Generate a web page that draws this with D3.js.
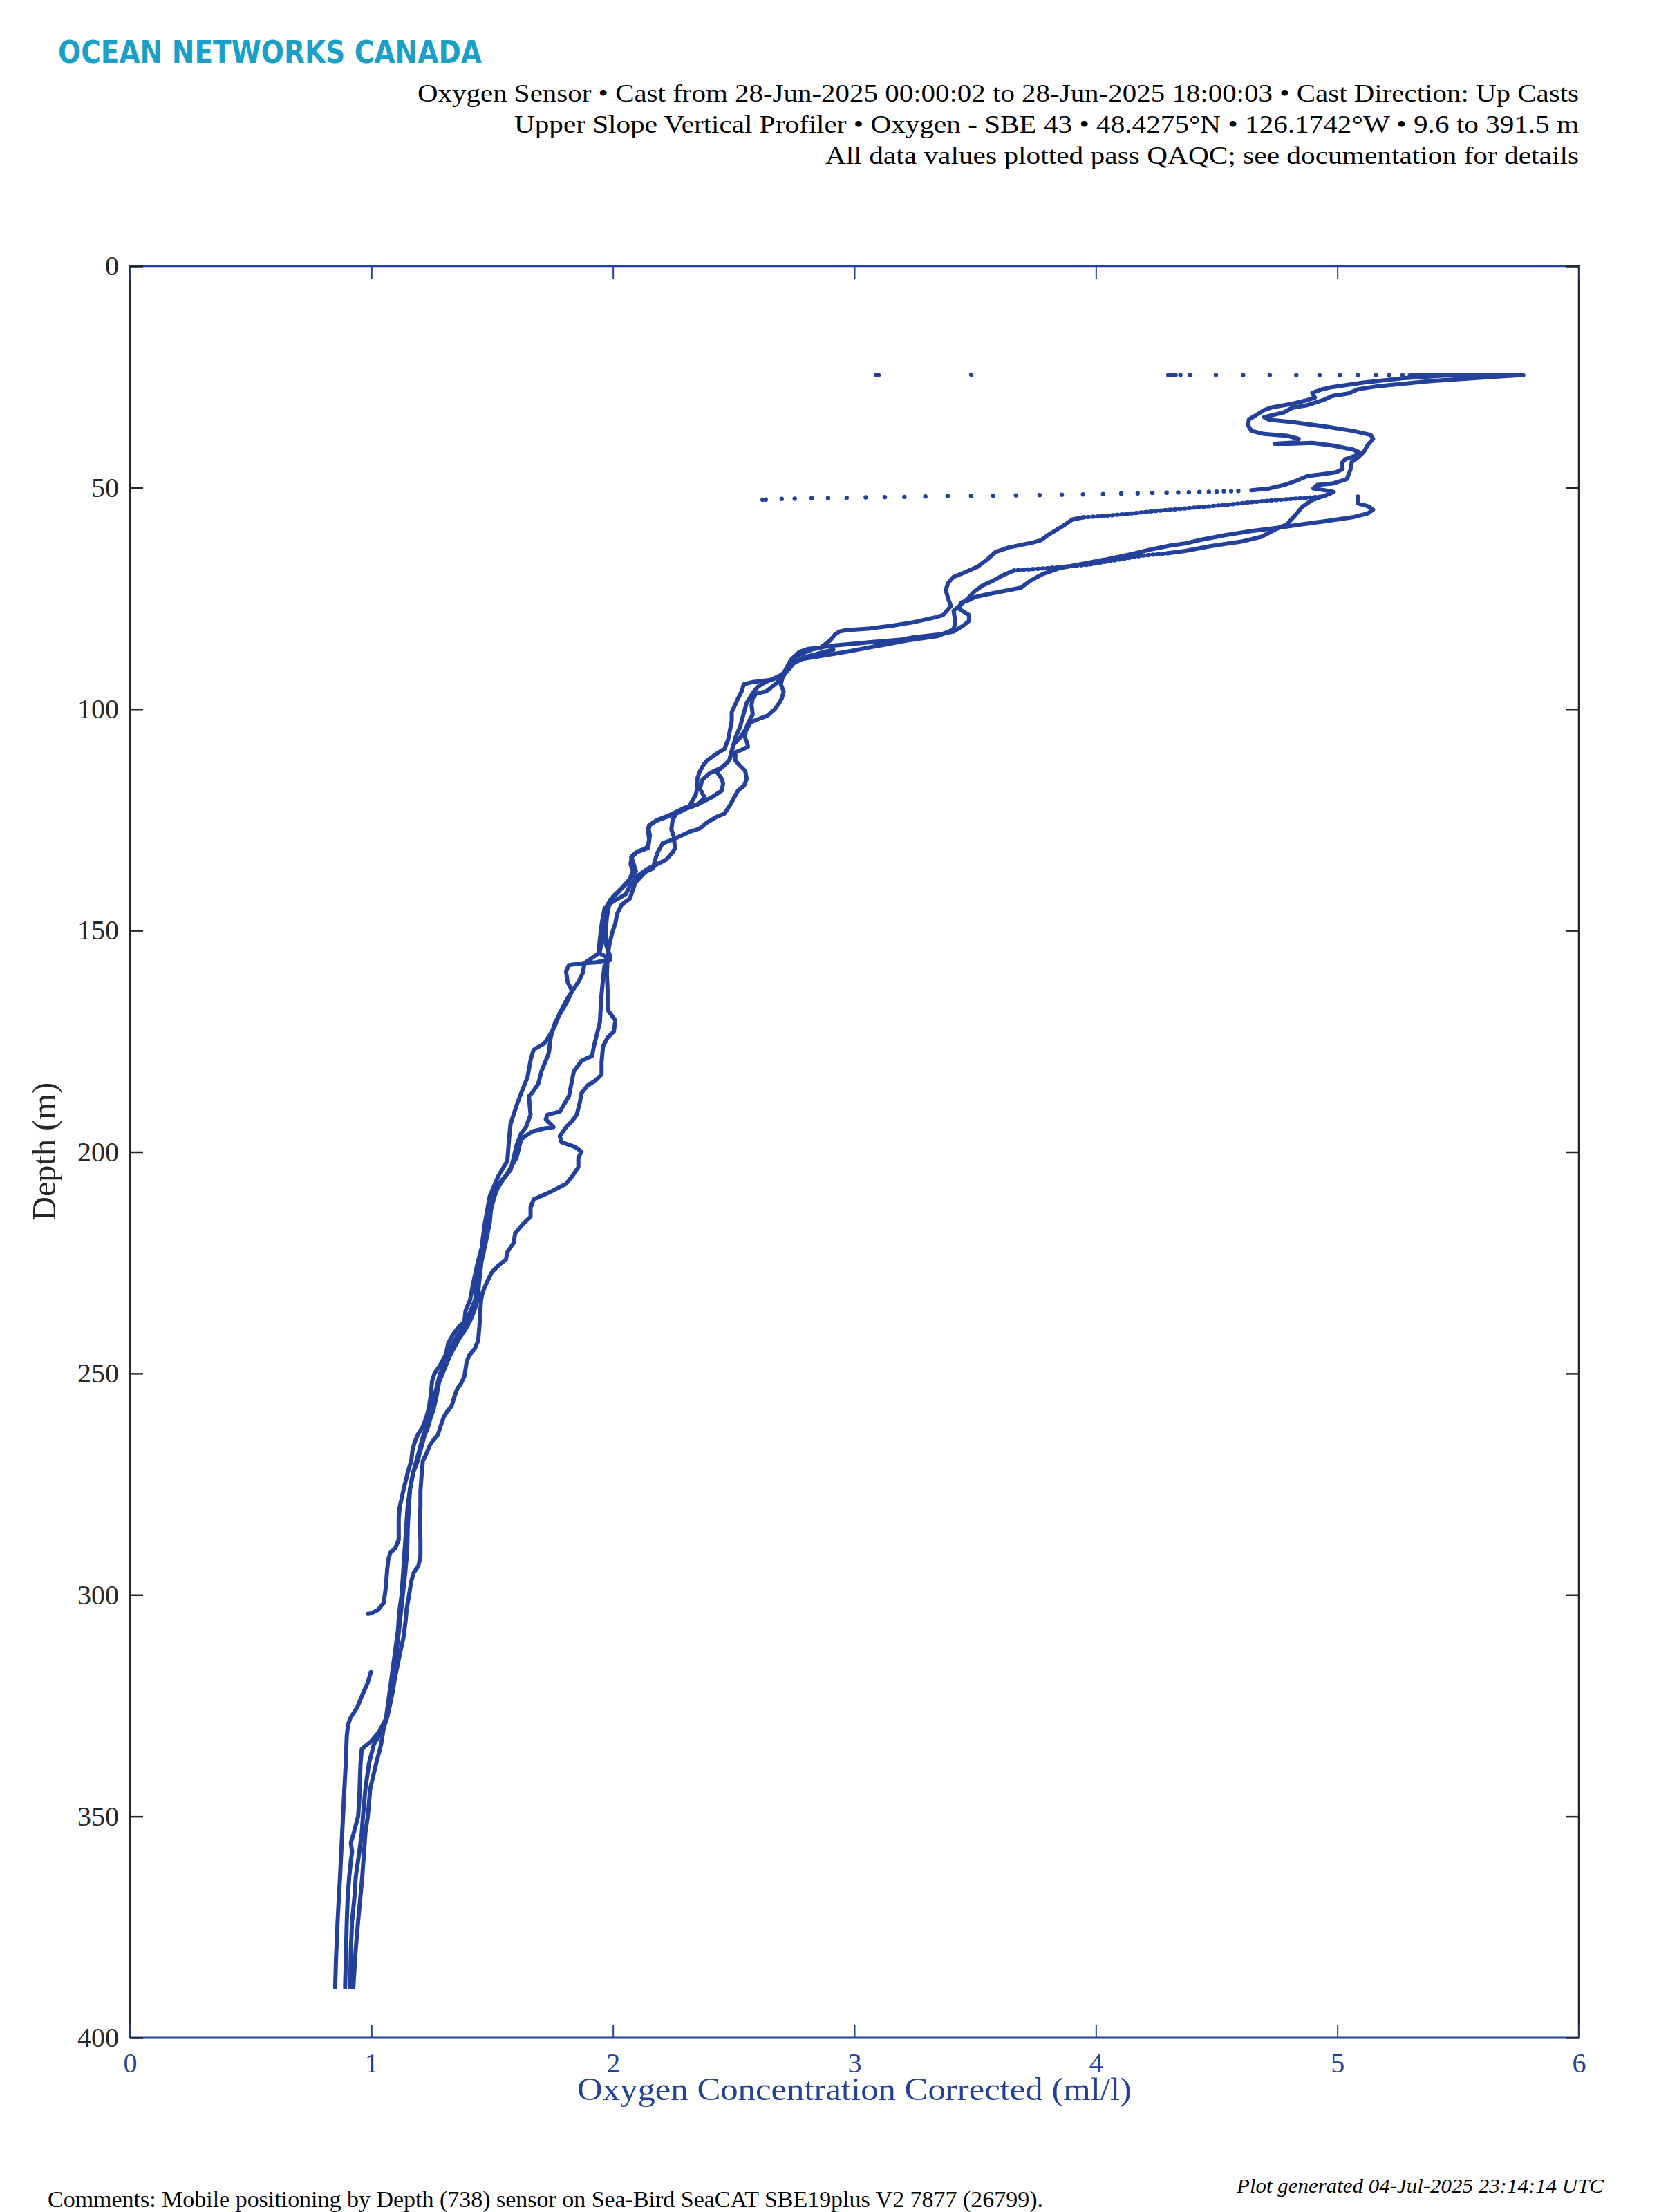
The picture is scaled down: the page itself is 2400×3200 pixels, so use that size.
<!DOCTYPE html>
<html><head><meta charset="utf-8">
<script src="https://cdn.jsdelivr.net/npm/d3@7"></script>
<style>html,body{margin:0;padding:0;background:#fff}</style>
</head><body>
<script>
// ---------- DATA (depth m, oxygen ml/l) ----------
const xTicks = [0,1,2,3,4,5,6];
const yTicks = [0,50,100,150,200,250,300,350,400];

const castA_top = [[24.6,5.485],[25.3,5.275],[26.3,5.107],[27.3,4.98],[27.8,4.938],[28.6,4.896],[29.7,4.907],[30.4,4.865],[31.1,4.812],[31.9,4.728],[32.5,4.697],[33.6,4.665],[34.6,4.634],[35.9,4.63],[37.2,4.644],[37.9,4.697],[38.3,4.791],[39.0,4.84],[39.8,4.833],[40.1,4.74],[40.1,4.80],[39.9,4.896],[40.5,4.98],[41.4,5.064],[42.0,5.09],[42.8,5.075],[43.6,5.033],[44.5,5.018],[45.8,5.022],[46.5,4.997],[46.9,4.949],[47.4,4.875],[48.4,4.833],[49.4,4.781],[50.2,4.718],[50.6,4.644]];

const castA_mid = [[86.6,2.913],[87.1,2.874],[87.7,2.836],[88.4,2.785],[89.7,2.747],[91.0,2.73],[92.5,2.69],[94.0,2.63],[95.0,2.60],[96.0,2.584],[98.6,2.554],[101.7,2.538],[103.8,2.528],[106.4,2.508],[109.5,2.492],[111.6,2.482],[113.2,2.451],[114.5,2.40],[116.0,2.37],[118.0,2.36],[120.0,2.38],[121.5,2.353],[122.3,2.296],[124.1,2.229],[125.1,2.181],[126.2,2.153],[127.2,2.148],[128.5,2.153],[130.6,2.148],[131.6,2.134],[132.4,2.095],[133.4,2.076],[135.0,2.086],[136.6,2.095],[137.3,2.086],[138.6,2.067],[139.7,2.048],[141.5,2.02],[143.0,1.99],[145.0,1.97],[148.0,1.96],[152.0,1.955],[155.0,1.945],[157.4,1.882],[159.5,1.876],[161.6,1.857],[163.7,1.831],[166.5,1.806],[170.7,1.761],[174.2,1.742],[177.6,1.735],[181.8,1.704],[184.6,1.691],[186.7,1.665],[187.4,1.652],[191.6,1.659],[194.4,1.64],[195.8,1.62],[198.5,1.601],[201.3,1.589],[204.1,1.576],[207,1.53],[210,1.51],[216,1.48],[220,1.465],[225,1.44],[230,1.42],[233.3,1.409],[235.8,1.39],[238.3,1.385],[239.5,1.361],[241.3,1.337],[243.2,1.318],[245.7,1.308],[248.1,1.285],[250.0,1.261],[251.8,1.251],[254.9,1.246],[258.0,1.237],[259.9,1.227],[262.0,1.213],[263.6,1.194],[265.4,1.18],[267.3,1.17],[269.7,1.165],[272.2,1.151],[276.5,1.132],[280.2,1.117],[282.7,1.113],[287.6,1.113],[289.5,1.098],[290.4,1.079],[292.0,1.07],[294.4,1.065],[298.1,1.06],[301.8,1.051],[303.4,1.027],[304.2,0.998],[304.3,0.985]];

const castA_deep = [[317.4,0.998],[319.9,0.984],[322.9,0.96],[325.4,0.941],[327.9,0.912],[329.4,0.903],[331.8,0.898],[338.8,0.893],[343.8,0.888],[353.7,0.879],[363.7,0.87],[373.6,0.86],[382.6,0.853],[388.6,0.85]];

const castB_upper = [[24.6,5.30],[24.6,5.77],[24.8,5.70],[25.2,5.59],[26.0,5.38],[27.1,5.17],[27.8,5.085],[28.8,5.043],[29.3,4.98],[30.3,4.938],[31.4,4.875],[32.0,4.812],[33.0,4.78],[33.7,4.728],[34.1,4.697],[34.7,4.718],[35.2,4.812],[36.3,4.96],[37.2,5.064],[38.1,5.138],[39.0,5.148],[40.3,5.127],[41.9,5.11],[43.2,5.085],[44.2,5.06],[46.0,5.054],[48.1,5.039],[49.1,4.98],[49.4,4.917],[50.2,4.9],[50.7,4.96],[51.0,4.985],[51.8,4.949],[52.8,4.896],[54.4,4.854],[56.4,4.823],[58.3,4.791],[59.3,4.749],[61.1,4.686],[62.2,4.602],[63.2,4.476],[64.3,4.371],[64.8,4.3]];
const castB_fast = [[64.8,4.3],[65.4,4.188],[66.4,4.08],[67.4,3.97],[68.2,3.794],[68.7,3.662]];
const castB = [[68.7,3.662],[69.7,3.619],[71.0,3.575],[72.1,3.531],[73.4,3.498],[74.7,3.476],[76.0,3.45],[77.8,3.411],[80.4,3.418],[82.0,3.411],[83.5,3.347],[84.5,3.219],[85.8,3.091],[87.1,2.964],[87.9,2.874],[88.7,2.785],[90.0,2.734],[91.5,2.72],[93.0,2.70],[94.5,2.67],[96.0,2.635],[96.5,2.594],[97.5,2.579],[99.1,2.574],[101.2,2.579],[102.7,2.564],[104.6,2.549],[106.4,2.528],[108.0,2.50],[109.5,2.492],[111.6,2.482],[113.2,2.451],[114.2,2.431],[115.8,2.451],[116.8,2.456],[118.4,2.451],[119.9,2.41],[121.0,2.37],[122.0,2.329],[122.8,2.288],[123.6,2.262],[125.1,2.247],[127.2,2.242],[128.8,2.252],[131.4,2.257],[132.4,2.247],[134.0,2.221],[135.0,2.185],[136.0,2.145],[137.6,2.104],[139.7,2.073],[141.8,2.053],[143.5,2.0],[144.9,1.966],[148.0,1.955],[151.9,1.946],[155.0,1.94],[156.5,1.99],[157.2,1.93],[157.4,1.876],[157.8,1.818],[159.2,1.806],[161.6,1.812],[163.7,1.831],[165.5,1.81],[168.6,1.78],[171.4,1.761],[173.5,1.74],[175.5,1.716],[176.9,1.672],[179.0,1.66],[183.2,1.646],[186.0,1.625],[189.5,1.601],[193.7,1.576],[197.0,1.57],[202.0,1.563],[205.5,1.525],[210,1.49],[216,1.47],[220,1.46],[225,1.45],[230,1.435],[233.3,1.43],[236,1.41],[238,1.395],[240,1.375],[242,1.35],[244,1.33],[246,1.315],[248,1.30],[250,1.285],[252,1.275],[255,1.262],[258,1.25],[260,1.24],[262,1.228],[264,1.215],[266,1.205],[268,1.195],[270,1.185],[273,1.17],[276,1.16],[280,1.155],[285,1.15],[290,1.148],[295,1.14],[300,1.13],[305,1.12],[310,1.11],[315,1.10],[320,1.09],[325,1.075],[330,1.05],[333.8,1.01],[338,0.99],[343.8,0.975],[350,0.965],[353.7,0.96],[358,0.95],[363.7,0.935],[368,0.93],[373.6,0.92],[380,0.915],[388.6,0.912]];

const castC = [[52.0,5.085],[53.6,5.085],[54.2,5.127],[55.0,5.148],[55.8,5.127],[56.7,5.064],[57.5,4.96],[58.3,4.854],[59.1,4.749],[59.8,4.644],[60.7,4.539],[61.8,4.434],[62.6,4.371],[63.1,4.308],[64.0,4.224],[65.0,4.15],[66.3,4.035],[67.4,3.925],[68.2,3.85],[69.5,3.78],[71.0,3.73],[72.6,3.69],[74.1,3.55],[74.7,3.50],[75.4,3.475],[76.0,3.44],[77.5,3.437],[78.8,3.475],[80.1,3.475],[81.2,3.45],[82.5,3.411],[83.2,3.347],[83.8,3.245],[84.3,3.194],[84.8,3.091],[85.3,2.989],[85.8,2.887],[86.6,2.823],[87.7,2.772],[89.2,2.734],[91.8,2.708],[94.4,2.695],[96.0,2.707],[97.5,2.70],[98.6,2.689],[100.0,2.671],[101.5,2.64],[102.3,2.60],[103.0,2.57],[105.0,2.55],[106.4,2.547],[107.5,2.555],[108.5,2.559],[109.2,2.533],[109.8,2.507],[111.6,2.507],[112.6,2.523],[114.0,2.548],[115.8,2.554],[117.3,2.543],[118.4,2.518],[121.5,2.487],[123.6,2.462],[124.3,2.431],[125.6,2.39],[127.0,2.359],[127.7,2.318],[129.5,2.247],[130.3,2.206],[132.4,2.185],[134.0,2.175],[136.0,2.165],[136.8,2.134],[139.2,2.093],[142.8,2.07],[144.2,2.036],[146.3,2.017],[148.4,2.01],[150.5,1.997],[153.3,1.985],[155.7,1.978],[160,1.975],[163.7,1.978],[167.9,1.978],[170.3,2.01],[172.8,2.004],[174.2,1.978],[176.2,1.959],[179.7,1.953],[182.5,1.953],[183.9,1.927],[185.0,1.895],[186.7,1.87],[188.8,1.863],[191.6,1.85],[193.0,1.831],[194.4,1.806],[196.4,1.78],[197.8,1.787],[198.9,1.844],[199.9,1.87],[201.3,1.857],[203.4,1.857],[205.5,1.831],[207.2,1.806],[209.0,1.742],[210.7,1.672],[212.5,1.659],[214.6,1.659],[216.3,1.627],[218.4,1.595],[220.5,1.589],[222.6,1.563],[224.3,1.557],[225.4,1.531],[227.1,1.499],[229.2,1.48],[231.6,1.461],[233.4,1.454],[235.8,1.451],[239.5,1.447],[242.6,1.442],[244.4,1.428],[246.0,1.404],[247.5,1.394],[250.6,1.385],[252.4,1.37],[253.4,1.356],[255.5,1.342],[257.4,1.332],[258.6,1.313],[259.9,1.299],[262.3,1.284],[263.9,1.275],[265.1,1.256],[266.3,1.241],[268.2,1.227],[269.7,1.213],[272.8,1.208],[276.5,1.203],[280.2,1.203],[283.9,1.199],[287.6,1.203],[291.3,1.203],[293.5,1.194],[295.0,1.175],[296.9,1.165],[300.0,1.156],[303.1,1.146],[306.1,1.141],[309.8,1.132],[313.5,1.117],[316.0,1.108],[318.5,1.098],[321.6,1.089],[325.3,1.075],[327.7,1.065],[330.0,1.051],[333.8,1.04],[338,1.02],[343.8,0.995],[350,0.985],[353.7,0.975],[363.7,0.962],[373.6,0.945],[380,0.935],[388.6,0.925]];

const castD_fast = [[51.8,4.949],[52.0,4.938],[52.4,4.854],[52.8,4.749],[53.3,4.644],[53.9,4.539],[54.4,4.434],[55.0,4.308],[55.4,4.224],[56.0,4.119],[56.5,4.014],[56.7,3.951]];
const castD = [[56.7,3.951],[57.2,3.903],[58.8,3.86],[60.6,3.805],[61.9,3.772],[62.4,3.739],[63.5,3.641],[64.5,3.586],[66.1,3.553],[67.9,3.509],[69.2,3.454],[70.2,3.41],[71.5,3.389],[73.1,3.378],[75.2,3.389],[76.7,3.40],[78.8,3.367],[79.3,3.334],[80.4,3.245],[81.2,3.155],[81.8,3.066],[82.2,2.964],[82.5,2.938],[83.2,2.919],[84.5,2.90],[86.1,2.861],[86.4,2.81],[87.1,2.772],[88.7,2.74],[90.8,2.721],[92.3,2.708],[93.4,2.657],[93.9,2.58],[94.4,2.542],[96.0,2.533],[98.0,2.515],[100.7,2.492],[102.7,2.492],[106.9,2.477],[109.0,2.462],[110.0,2.431],[111.6,2.39],[112.6,2.375],[114.2,2.359],[115.8,2.349],[117.8,2.349],[119.4,2.343],[122.0,2.315],[123.3,2.277],[124.3,2.226],[125.1,2.185],[126.2,2.15],[127.2,2.145],[129.3,2.15],[131.4,2.145],[132.1,2.104],[133.4,2.078],[135.0,2.073],[136.6,2.083],[139.2,2.063],[140.7,2.032],[142.3,2.001],[144.0,1.985],[147.0,1.975],[150.0,1.97],[153.0,1.97],[156.0,1.99],[158.0,1.965],[160.9,1.959],[165.0,1.952],[170.7,1.946],[176.2,1.921],[178.3,1.914],[179.4,1.87],[181.8,1.838],[184.0,1.83],[187.4,1.818],[190.9,1.78],[191.6,1.729],[192.6,1.722],[194.4,1.754],[194.7,1.716],[195.4,1.665],[197.1,1.62],[201.3,1.601],[204.8,1.563],[210,1.50],[216,1.49],[220,1.475],[225,1.455],[230,1.445],[233.3,1.44],[236,1.425],[238,1.41],[240,1.39],[242,1.365],[244,1.345],[246,1.325],[248,1.31],[250,1.295],[252,1.28],[255,1.27],[258,1.258],[260,1.245],[262,1.235],[264,1.22],[266,1.21],[268,1.20],[270,1.19],[272,1.175],[276,1.16],[280,1.15],[284,1.145],[288,1.14],[292,1.135],[296,1.13],[300,1.125],[304,1.115],[308,1.11],[312,1.10],[316,1.09],[320,1.08],[324,1.07],[328,1.06],[331,1.03],[333,1.0],[334.8,0.96],[338,0.955],[342,0.952],[346,0.95],[350,0.945],[353.7,0.927],[356,0.915],[358,0.92],[360,0.915],[363.7,0.908],[368,0.902],[373.6,0.898],[380,0.895],[388.6,0.891]];

// sparse samples (sensor drift while parked)
const dots25 = [[24.6,3.09],[24.6,3.10],[24.5,3.484],[24.6,4.30],[24.6,4.315],[24.6,4.33],[24.6,4.35],[24.6,4.39],[24.6,4.497],[24.6,4.61],[24.6,4.72],[24.6,4.83],[24.6,4.926],[24.6,5.01],[24.6,5.085],[24.6,5.16],[24.6,5.215],[24.6,5.27]];
const dots52 = [[50.75,4.59],[50.8,4.56],[50.85,4.53],[50.9,4.50],[50.95,4.468],[51.0,4.429],[51.05,4.385],[51.1,4.341],[51.15,4.293],[51.2,4.234],[51.3,4.173],[51.35,4.105],[51.45,4.03],[51.55,3.947],[51.6,3.859],[51.7,3.767],[51.75,3.669],[51.8,3.575],[51.85,3.483],[51.9,3.386],[52.0,3.294],[52.1,3.207],[52.15,3.126],[52.2,3.047],[52.3,2.968],[52.35,2.891],[52.4,2.823],[52.5,2.753],[52.55,2.699],[52.7,2.633],[52.75,2.62]];

const titleLines = [
  "Oxygen Sensor \u2022 Cast from 28-Jun-2025 00:00:02 to 28-Jun-2025 18:00:03 \u2022 Cast Direction: Up Casts",
  "Upper Slope Vertical Profiler \u2022 Oxygen - SBE 43 \u2022 48.4275\u00B0N \u2022 126.1742\u00B0W \u2022 9.6 to 391.5 m",
  "All data values plotted pass QAQC; see documentation for details"
];

// ---------- DRAW ----------
const W = 2400, H = 3200;
const blue = "#23419a", gray = "#262626";
const serif = "'Liberation Serif','DejaVu Serif',serif";
const x = d3.scaleLinear().domain([0,6]).range([188,2284]);
const y = d3.scaleLinear().domain([0,400]).range([385,2948]);

const svg = d3.select("body").append("svg").attr("width",W).attr("height",H)
  .style("background","#fff");
svg.append("rect").attr("width",W).attr("height",H).attr("fill","#fff");

// logo
svg.append("text").attr("x",84).attr("y",91)
  .attr("font-family","'DejaVu Sans Condensed','DejaVu Sans',sans-serif")
  .attr("font-weight","bold").attr("font-size",44).attr("fill","#1a9fc7")
  .attr("textLength",613).attr("lengthAdjust","spacingAndGlyphs")
  .text("OCEAN NETWORKS CANADA");

// title lines
const tl = [{x:604,y:147,w:1680},{x:744,y:192,w:1540},{x:1194,y:237,w:1090}];
titleLines.forEach((t,i)=>{
  svg.append("text").attr("x",tl[i].x).attr("y",tl[i].y)
    .attr("font-family",serif).attr("font-size",36).attr("fill","#000")
    .attr("textLength",tl[i].w).attr("lengthAdjust","spacingAndGlyphs").text(t);
});

// clip
svg.append("clipPath").attr("id","plotclip").append("rect")
  .attr("x",188).attr("y",385).attr("width",2284-188).attr("height",2948-385);

const g = svg.append("g").attr("clip-path","url(#plotclip)");
const line = d3.line().x(d=>x(d[1])).y(d=>y(d[0]));
[castA_top, castA_mid, castA_deep, castB_upper, castB, castC, castD].forEach(c=>{
  g.append("path").attr("d",line(c)).attr("fill","none").attr("stroke",blue)
    .attr("stroke-width",6).attr("stroke-linejoin","round").attr("stroke-linecap","round");
});
// fast-moving segments: samples visibly separated
[castB_fast, castD_fast].forEach(c=>{
  g.append("path").attr("d",line(c)).attr("fill","none").attr("stroke",blue)
    .attr("stroke-width",6).attr("stroke-linecap","round").attr("stroke-dasharray","2 5");
});
g.selectAll("circle.d").data(dots25.concat(dots52)).join("circle")
  .attr("cx",d=>x(d[1])).attr("cy",d=>y(d[0])).attr("r",3.2).attr("fill",blue);

// box lines
svg.append("line").attr("x1",188).attr("x2",2284).attr("y1",385).attr("y2",385).attr("stroke",blue).attr("stroke-width",2.5);
svg.append("line").attr("x1",188).attr("x2",2284).attr("y1",2948).attr("y2",2948).attr("stroke",blue).attr("stroke-width",3);
svg.append("line").attr("x1",188).attr("x2",188).attr("y1",384).attr("y2",2949).attr("stroke",gray).attr("stroke-width",2.5);
svg.append("line").attr("x1",2284).attr("x2",2284).attr("y1",384).attr("y2",2949).attr("stroke",gray).attr("stroke-width",2.5);

// axes
const ax = svg.append("g").attr("transform","translate(0,2948)")
  .call(d3.axisBottom(x).tickValues(xTicks).tickSizeInner(-19).tickSizeOuter(0).tickPadding(22).tickFormat(d3.format("d")));
ax.select(".domain").remove();
ax.selectAll("line").attr("stroke",blue).attr("stroke-width",2);
ax.selectAll("text").attr("fill",blue).attr("font-size",40).attr("font-family",serif);

const axT = svg.append("g").attr("transform","translate(0,385)")
  .call(d3.axisTop(x).tickValues(xTicks).tickSizeInner(-19).tickSizeOuter(0).tickFormat(""));
axT.select(".domain").remove();
axT.selectAll("line").attr("stroke",blue).attr("stroke-width",2);

const ay = svg.append("g").attr("transform","translate(188,0)")
  .call(d3.axisLeft(y).tickValues(yTicks).tickSizeInner(-19).tickSizeOuter(0).tickPadding(16).tickFormat(d3.format("d")));
ay.select(".domain").remove();
ay.selectAll("line").attr("stroke",gray).attr("stroke-width",2.5);
ay.selectAll("text").attr("fill",gray).attr("font-size",40).attr("font-family",serif);

const ayR = svg.append("g").attr("transform","translate(2284,0)")
  .call(d3.axisRight(y).tickValues(yTicks).tickSizeInner(-19).tickSizeOuter(0).tickFormat(""));
ayR.select(".domain").remove();
ayR.selectAll("line").attr("stroke",gray).attr("stroke-width",2.5);

// axis labels
svg.append("text").attr("x",835).attr("y",3038).attr("font-family",serif).attr("font-size",46)
  .attr("fill",blue).attr("textLength",802).attr("lengthAdjust","spacingAndGlyphs")
  .text("Oxygen Concentration Corrected (ml/l)");
svg.append("text").attr("transform","translate(80,1666) rotate(-90)").attr("x",-100).attr("y",0)
  .attr("font-family",serif).attr("font-size",48).attr("fill",gray)
  .attr("textLength",200).attr("lengthAdjust","spacingAndGlyphs").text("Depth (m)");

// footer
svg.append("text").attr("x",69).attr("y",3193).attr("font-family",serif).attr("font-size",33)
  .attr("fill","#000").attr("textLength",1440).attr("lengthAdjust","spacingAndGlyphs")
  .text("Comments: Mobile positioning by Depth (738) sensor on Sea-Bird SeaCAT SBE19plus V2 7877 (26799).");
svg.append("text").attr("x",1789).attr("y",3172).attr("font-family",serif).attr("font-size",30)
  .attr("font-style","italic").attr("fill","#000").attr("textLength",531).attr("lengthAdjust","spacingAndGlyphs")
  .text("Plot generated 04-Jul-2025 23:14:14 UTC");
</script>
</body></html>
